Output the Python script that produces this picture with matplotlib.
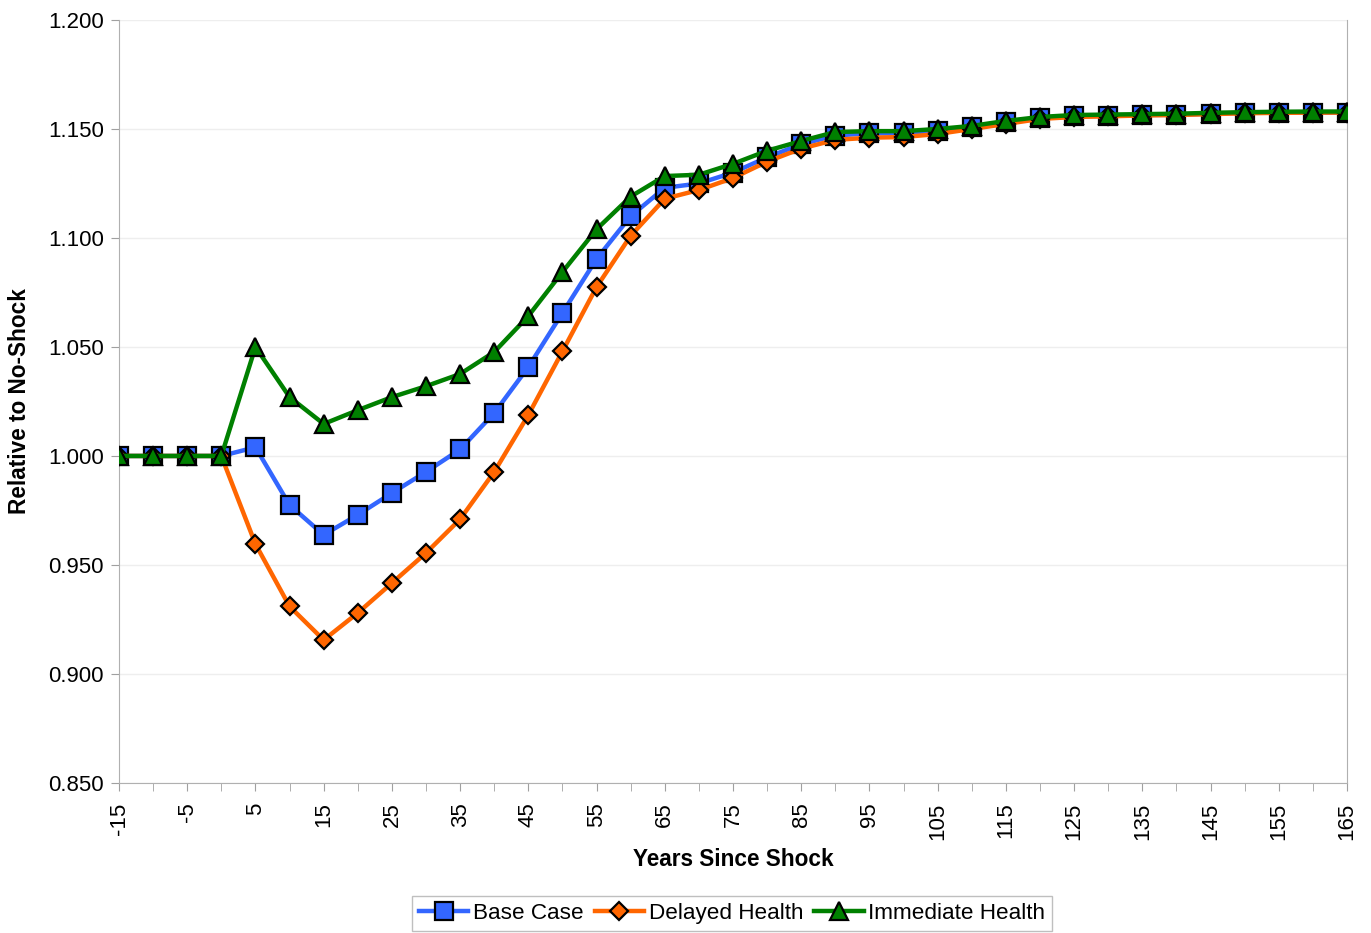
import numpy as np
import matplotlib.pyplot as plt
from matplotlib.ticker import MultipleLocator, FormatStrFormatter

plt.rcParams['font.family'] = ['Liberation Sans', 'DejaVu Sans']
plt.rcParams['axes.unicode_minus'] = False

# years since the shock, every 5 years
years = list(range(-15, 170, 5))

base_case = [1.000, 1.000, 1.000, 1.000, 1.004, 0.9775, 0.9638, 0.973, 0.983, 0.9927,
             1.003, 1.0197, 1.0408, 1.0656, 1.0904, 1.110, 1.123, 1.125, 1.130, 1.137,
             1.143, 1.147, 1.148, 1.148, 1.149, 1.151, 1.153, 1.155, 1.156, 1.156,
             1.1564, 1.1565, 1.157, 1.1574, 1.1575, 1.1575, 1.1575]

delayed_health = [1.000, 1.000, 1.000, 1.000, 0.9596, 0.931, 0.9156, 0.928, 0.9417, 0.9555,
                  0.971, 0.9927, 1.0188, 1.048, 1.0775, 1.101, 1.118, 1.122, 1.1275, 1.135,
                  1.141, 1.145, 1.146, 1.1463, 1.1477, 1.150, 1.1523, 1.1546, 1.1555, 1.1558,
                  1.1562, 1.1564, 1.1568, 1.1572, 1.1574, 1.1575, 1.1575]

immediate_health = [1.000, 1.000, 1.000, 1.000, 1.050, 1.027, 1.0147, 1.021, 1.027, 1.032,
                    1.0376, 1.0477, 1.0642, 1.0844, 1.104, 1.119, 1.1284, 1.129, 1.134, 1.140,
                    1.1445, 1.1486, 1.149, 1.149, 1.150, 1.1514, 1.1537, 1.1555, 1.1564, 1.1566,
                    1.1568, 1.157, 1.1574, 1.1577, 1.1579, 1.158, 1.158]

fig = plt.figure(figsize=(13.71, 9.33), dpi=100)
ax = fig.add_axes([0.0868, 0.1608, 0.8957, 0.8178])

ax.plot(years, base_case, color='#3366FF', lw=3.2, marker='s', ms=12.5,
        mfc='#3366FF', mec='black', mew=1.6, label='Base Case', zorder=3)
ax.plot(years, delayed_health, color='#FF6600', lw=3.2, marker='D', ms=9.5,
        mfc='#FF6600', mec='black', mew=1.6, label='Delayed Health', zorder=4)
ax.plot(years, immediate_health, color='#008000', lw=3.2, marker='^', ms=13.5,
        mfc='#008000', mec='black', mew=1.6, label='Immediate Health', zorder=5)

ax.set_xlim(-15, 165)
ax.set_ylim(0.85, 1.2)
ax.set_xticks(range(-15, 170, 10))
ax.xaxis.set_minor_locator(MultipleLocator(5))
ax.yaxis.set_major_locator(MultipleLocator(0.05))
ax.yaxis.set_major_formatter(FormatStrFormatter('%.3f'))

ax.tick_params(axis='x', which='major', labelsize=16, rotation=90, length=6,
               pad=8, color='#A0A0A0')
ax.tick_params(axis='x', which='minor', length=6, color='#A0A0A0')
ax.tick_params(axis='y', labelsize=16, length=6, pad=5, color='#A0A0A0')

ax.grid(axis='y', color='#EEEEEE', lw=1)
ax.set_axisbelow(True)
for side in ['left', 'bottom', 'right']:
    ax.spines[side].set_color('#B0B0B0')
ax.spines['top'].set_visible(False)

ax.set_xlabel('Years Since Shock', fontsize=16.3, fontweight='bold', labelpad=6)
ax.set_ylabel('Relative to No-Shock', fontsize=16.3, fontweight='bold', labelpad=12)

fig.legend(loc='lower center', bbox_to_anchor=(0.534, 0.0), ncol=3, fontsize=16.2,
           frameon=True, fancybox=False, edgecolor='#B0B0B0', handlelength=2.2,
           handletextpad=0.2, columnspacing=0.5, borderpad=0.3, borderaxespad=0.1)

fig.savefig('out.png', dpi=100)
